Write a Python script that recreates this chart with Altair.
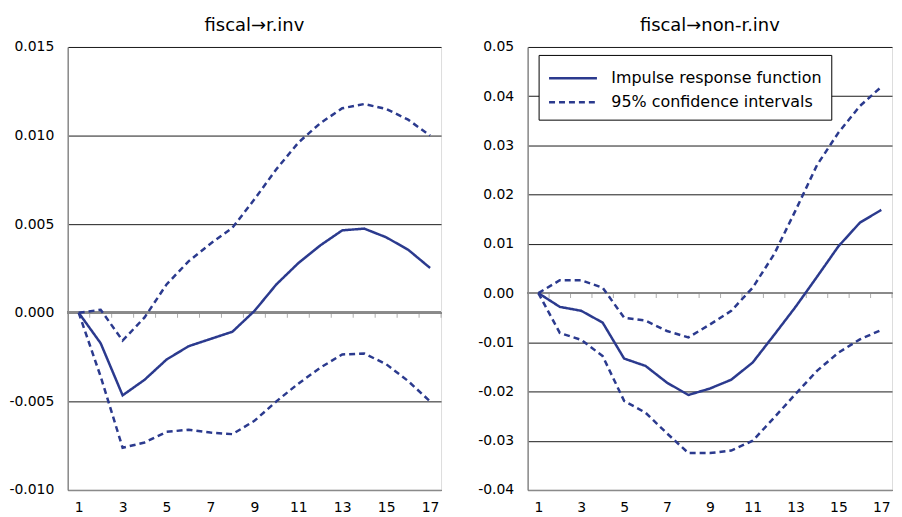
import altair as alt
import pandas as pd

# ---------------- data ----------------
periods = list(range(1, 18))
label_periods = [1, 3, 5, 7, 9, 11, 13, 15, 17]
tick_boundaries = [p + 0.5 for p in periods]

left_title = "fiscal→r.inv"
right_title = "fiscal→non-r.inv"
series_names = ["Impulse response function", "95% confidence intervals"]

left_irf = [0.0, -0.00172, -0.00466, -0.00378, -0.00264, -0.00189, -0.00148, -0.00107,
            0.0001, 0.0016, 0.0028, 0.0038, 0.00465, 0.00475, 0.00426, 0.00356, 0.00253]
left_upper = [0.0, 0.00017, -0.00157, -0.00026, 0.0016, 0.0029, 0.0039, 0.0048,
              0.0064, 0.0081, 0.0096, 0.0107, 0.01154, 0.01178, 0.0115, 0.0109, 0.0100]
left_lower = [0.0, -0.0036, -0.00762, -0.00732, -0.00672, -0.0066, -0.00676, -0.00685,
              -0.0061, -0.0050, -0.0040, -0.0031, -0.00235, -0.0023, -0.0029, -0.00385, -0.0050]

right_irf = [0.0, -0.0028, -0.0036, -0.0060, -0.0133, -0.0148, -0.0182, -0.0207,
             -0.0194, -0.0176, -0.0141, -0.0085, -0.0028, 0.0033, 0.0095, 0.0143, 0.0169]
right_upper = [0.0, 0.0026, 0.0026, 0.0011, -0.0050, -0.0056, -0.0077, -0.0090,
               -0.0064, -0.0036, 0.0011, 0.0079, 0.0168, 0.0260, 0.0326, 0.0380, 0.0419]
right_lower = [0.0, -0.0081, -0.0095, -0.0128, -0.0219, -0.0243, -0.0285, -0.0325,
               -0.0325, -0.0320, -0.0300, -0.0253, -0.0205, -0.0158, -0.0121, -0.0094, -0.0075]

left_y_values = [-0.010, -0.005, 0.0, 0.005, 0.010, 0.015]
right_y_values = [-0.04, -0.03, -0.02, -0.01, 0.0, 0.01, 0.02, 0.03, 0.04, 0.05]

# ---------------- style ----------------
FONT = "DejaVu Sans"
BLUE = "#2b3a8e"
GRAY = "#8a8a8a"
GRID = "#1a1a1a"


def long_df(irf, upper, lower):
    rows = []
    for name, key, vals in [(series_names[0], "irf", irf),
                            (series_names[1], "upper", upper),
                            (series_names[1], "lower", lower)]:
        for t, v in zip(periods, vals):
            rows.append({"t": t, "value": v, "series": name, "line": key})
    return pd.DataFrame(rows)


ticks_df = pd.DataFrame({"b": tick_boundaries})


def panel(df, title, yvalues, fmt, width, legend):
    yscale = alt.Scale(domain=[yvalues[0], yvalues[-1]], nice=False, zero=False)
    xscale = alt.Scale(domain=[0.5, 17.5], nice=False, zero=False)
    x = alt.X("t:Q", scale=xscale,
              axis=alt.Axis(values=label_periods, title=None, grid=False, ticks=False,
                            domainColor=GRAY, domainWidth=1.5, labelPadding=11,
                            labelFontSize=14, labelFont=FONT, labelColor="#000",
                            labelFlush=False, zindex=1))
    y = alt.Y("value:Q", scale=yscale,
              axis=alt.Axis(values=yvalues, title=None, grid=True, gridColor=GRID,
                            gridWidth=1, ticks=False, domainColor=GRAY, domainWidth=1.5,
                            labelPadding=14, labelFontSize=14, labelFont=FONT,
                            labelColor="#000",
                            labelExpr=f"replace(format(datum.value, '{fmt}'), '\u2212', '-')"))
    dash = alt.StrokeDash("series:N",
                          scale=alt.Scale(domain=series_names, range=[[1, 0], [6, 4]]),
                          legend=legend)
    lines = alt.Chart(df).mark_line(color=BLUE, strokeWidth=2.5).encode(
        x=x, y=y, strokeDash=dash, detail="line:N"
    )
    zero = alt.Chart(df).mark_rule(color=GRAY, strokeWidth=2).encode(y=alt.datum(0))
    ticks = alt.Chart(ticks_df).mark_tick(
        orient="vertical", size=5, thickness=1, color=GRAY, yOffset=2.5
    ).encode(x=alt.X("b:Q", scale=xscale), y=alt.datum(0))
    return alt.layer(zero, ticks, lines).properties(
        width=width, height=445,
        title=alt.TitleParams(title, font=FONT, fontSize=18, fontWeight="normal",
                              color="#000", offset=5, anchor="middle"),
    )


legend_right = alt.Legend(
    orient="none", legendX=11, legendY=8, title=None,
    symbolType="M-1,0L2.7,0", symbolSize=676, symbolStrokeWidth=2.5,
    symbolStrokeColor=BLUE, labelFont=FONT, labelFontSize=16, labelOffset=35,
    labelLimit=0, labelColor="#000", strokeColor="#000", fillColor="#fff",
    padding=9, rowPadding=1,
)

left = panel(long_df(left_irf, left_upper, left_lower), left_title, left_y_values,
             ".3f", 375, None)
right = panel(long_df(right_irf, right_upper, right_lower), right_title, right_y_values,
              ".2f", 366, legend_right)

chart = alt.hconcat(left, right, spacing=34).resolve_scale(
    y="independent", strokeDash="independent"
).properties(
    padding={"left": 0, "top": 7, "right": 0, "bottom": 0}
).configure_view(stroke=None).configure(background="#ffffff")

chart.save("out.html", embed_options={"renderer": "svg", "actions": False})
